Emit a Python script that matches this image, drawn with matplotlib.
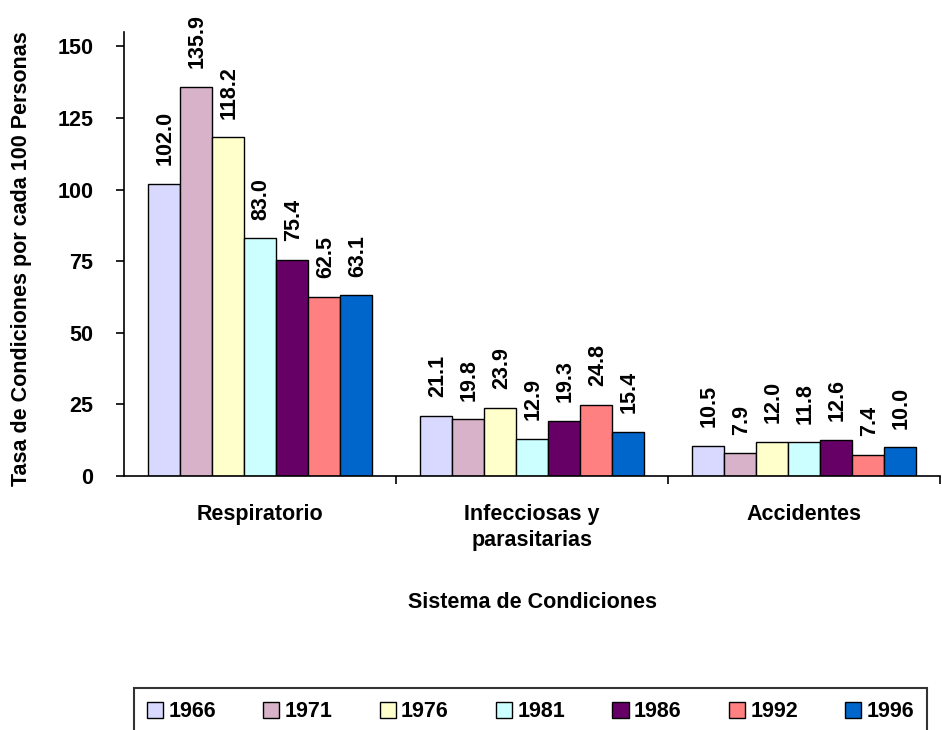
import matplotlib.pyplot as plt
import numpy as np

categories = ['Respiratorio', 'Infecciosas y\nparasitarias', 'Accidentes']
years = ['1966', '1971', '1976', '1981', '1986', '1992', '1996']
values = {
    '1966': [102.0, 21.1, 10.5],
    '1971': [135.9, 19.8, 7.9],
    '1976': [118.2, 23.9, 12.0],
    '1981': [83.0, 12.9, 11.8],
    '1986': [75.4, 19.3, 12.6],
    '1992': [62.5, 24.8, 7.4],
    '1996': [63.1, 15.4, 10.0],
}
colors = ['#D9D9FF', '#D8B2C8', '#FFFFCC', '#CCFFFF', '#660066', '#FF8080', '#0066CC']

plt.rcParams['font.family'] = ['Liberation Sans', 'DejaVu Sans']
plt.rcParams['font.weight'] = 'bold'
FS = 15.5

fig = plt.figure(figsize=(9.42, 7.3), dpi=100)
ax = fig.add_axes([124 / 942, 254 / 730, 816 / 942, 444 / 730])

x = np.arange(len(categories))
w = 0.823 / len(years)
for i, yr in enumerate(years):
    pos = x - 0.823 / 2 + w * (i + 0.5)
    bars = ax.bar(pos, values[yr], width=w, color=colors[i], edgecolor='black',
                  linewidth=1, label=yr)
    for b, v in zip(bars, values[yr]):
        ax.text(b.get_x() + b.get_width() / 2 + 0.005, v + 6.5, f'{v:.1f}', rotation=90,
                ha='center', va='bottom', fontsize=FS, fontweight='bold')

ax.set_xlim(-0.5, 2.5)
ax.set_ylim(0, 155)
ax.set_yticks(range(0, 151, 25))
ax.set_xticks(x)
ax.set_xticklabels(categories, fontsize=FS, fontweight='bold', linespacing=1.3)
ax.tick_params(axis='x', length=0, pad=20)
ax.set_xticks([0.5, 1.5, 2.5], minor=True)
ax.tick_params(axis='x', which='minor', length=6, width=1.2)
ax.tick_params(axis='y', length=6, width=1.2, labelsize=FS, pad=16)
for lab in ax.get_yticklabels():
    lab.set_fontweight('bold')
for s in ['top', 'right']:
    ax.spines[s].set_visible(False)
ax.spines['left'].set_linewidth(1.2)
ax.spines['bottom'].set_linewidth(1.2)

ax.set_ylabel('Tasa de Condiciones por cada 100 Personas', fontsize=FS,
              fontweight='bold')
ax.yaxis.set_label_coords(-0.113, 0.49)
ax.set_xlabel('Sistema de Condiciones', fontsize=FS, fontweight='bold')
ax.xaxis.set_label_coords(0.5, -0.262)

leg = fig.legend(loc='lower left', bbox_to_anchor=(123 / 942, -16 / 730, 815 / 942, 48 / 730),
                 mode='expand', ncol=7, frameon=True, fancybox=False, fontsize=FS,
                 handlelength=0.75, handleheight=0.75, handletextpad=0.25,
                 borderpad=0.6, edgecolor='black')
leg.get_frame().set_linewidth(1.5)
for t in leg.get_texts():
    t.set_fontweight('bold')

fig.savefig('out.png', dpi=100)
